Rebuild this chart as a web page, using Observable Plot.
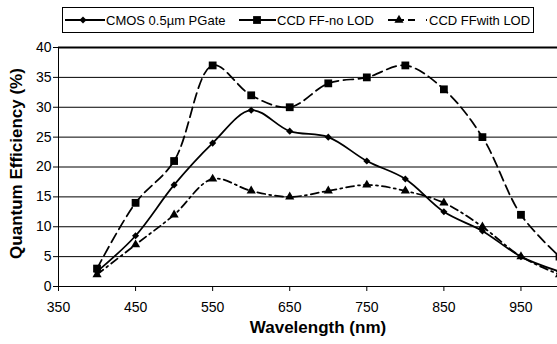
<!DOCTYPE html>
<html>
<head>
<meta charset="utf-8">
<script src="https://cdn.jsdelivr.net/npm/d3@7"></script>
<script src="https://cdn.jsdelivr.net/npm/@observablehq/plot@0.6"></script>
<style>
  html, body { margin: 0; padding: 0; background: white; }
  #wrap { width: 557px; height: 344px; overflow: hidden; position: relative; }
  #legend { display: block; }
  #chart svg { display: block; }
</style>
</head>
<body>
<div id="wrap">
  <svg id="legend" width="557" height="40"></svg>
  <div id="chart"></div>
</div>
<script>
// ---- data ----
const wavelengths = [400, 450, 500, 550, 600, 650, 700, 750, 800, 850, 900, 950, 1000];
const cmos      = [2.5, 8.5, 17, 24, 29.5, 26, 25, 21, 18, 12.5, 9.3, 5, 2.5];
const ccdNoLod  = [3, 14, 21, 37, 32, 30, 34, 35, 37, 33, 25, 12, 5];
const ccdLod    = [2, 7, 12, 18, 16, 15, 16, 17, 16, 14, 10, 5, 2];
const seriesNames = ["CMOS 0.5µm PGate", "CCD FF-no LOD", "CCD FFwith LOD"];
const xTicks = [350, 450, 550, 650, 750, 850, 950];
const yTicks = [0, 5, 10, 15, 20, 25, 30, 35, 40];
const xTitle = "Wavelength (nm)";
const yTitle = "Quantum Efficiency (%)";

const font = "'Liberation Sans', Arial, sans-serif";
const styles = [
  {values: cmos,     dash: null,      symbol: "diamond2", r: 3.2},
  {values: ccdNoLod, dash: "10,5",    symbol: "square",   r: 4.4},
  {values: ccdLod,   dash: "8,4,2,4", symbol: "triangle", r: 3.4}
];

const marks = [
  Plot.ruleY(yTicks.filter(d => d > 0 && d < 40), {stroke: "black", strokeWidth: 1}),
  Plot.ruleY([40], {stroke: "black", strokeWidth: 2}),
  Plot.ruleX([350], {stroke: "black", strokeWidth: 1}),
  Plot.ruleY([0], {stroke: "black", strokeWidth: 1}),
  Plot.axisY({ticks: yTicks, tickSize: 5, tickPadding: 2, label: null, fontSize: 14}),
  Plot.axisX({ticks: xTicks, tickSize: 5, tickPadding: 11, label: null, fontSize: 14})
];
styles.forEach(s => {
  marks.push(Plot.line(wavelengths, {
    x: d => d, y: (d, i) => s.values[i], curve: "catmull-rom",
    stroke: "black", strokeWidth: 1.75, strokeDasharray: s.dash
  }));
});
styles.forEach(s => {
  marks.push(Plot.dot(wavelengths, {
    x: d => d, y: (d, i) => s.values[i], symbol: s.symbol, r: s.r, fill: "black", stroke: "none"
  }));
});
marks.push(Plot.text([xTitle], {text: d => d, frameAnchor: "bottom", dx: 9, dy: 46, fontWeight: "bold", fontSize: 17}));

const chart = Plot.plot({
  width: 557, height: 304,
  marginTop: 7, marginBottom: 58, marginLeft: 58, marginRight: -2,
  x: {domain: [350, 1000]},
  y: {domain: [0, 40]},
  style: {fontFamily: font, fontSize: "14px", color: "black", background: "white", overflow: "hidden"},
  marks
});
document.getElementById("chart").appendChild(chart);

// y-axis title (rotated), centred on the frame
d3.select(chart).append("text")
  .attr("transform", `translate(16,${(7 + 246) / 2 - 3}) rotate(-90)`)
  .attr("text-anchor", "middle").attr("dominant-baseline", "central")
  .attr("font-size", 17).attr("font-weight", "bold").attr("fill", "black")
  .attr("font-family", font)
  .text(yTitle);

// ---- legend ----
const lg = d3.select("#legend").style("font-family", font);
lg.append("rect").attr("x", 62.5).attr("y", 7.5).attr("width", 471).attr("height", 25)
  .attr("fill", "white").attr("stroke", "black").attr("stroke-width", 1);
const items = [
  {x0: 65, x1: 105, mx: 83, tx: 106, dash: null, sym: d3.symbolDiamond2, r: 3.2},
  {x0: 239, x1: 276, mx: 257, tx: 277, dash: null, sym: d3.symbolSquare, r: 4.4},
  {x0: 388, x1: 428, mx: 399, tx: 429, dash: "16,4,7,11,1", sym: d3.symbolTriangle, r: 3.4}
];
items.forEach((it, i) => {
  lg.append("line").attr("x1", it.x0).attr("x2", it.x1).attr("y1", 20).attr("y2", 20)
    .attr("stroke", "black").attr("stroke-width", 2).attr("stroke-dasharray", it.dash);
  lg.append("path").attr("d", d3.symbol(it.sym, Math.PI * it.r * it.r)())
    .attr("transform", `translate(${it.mx},20)`).attr("fill", "black");
  lg.append("text").attr("x", it.tx).attr("y", 25).attr("font-size", 13)
    .attr("fill", "black").text(seriesNames[i]);
});
</script>
</body>
</html>
